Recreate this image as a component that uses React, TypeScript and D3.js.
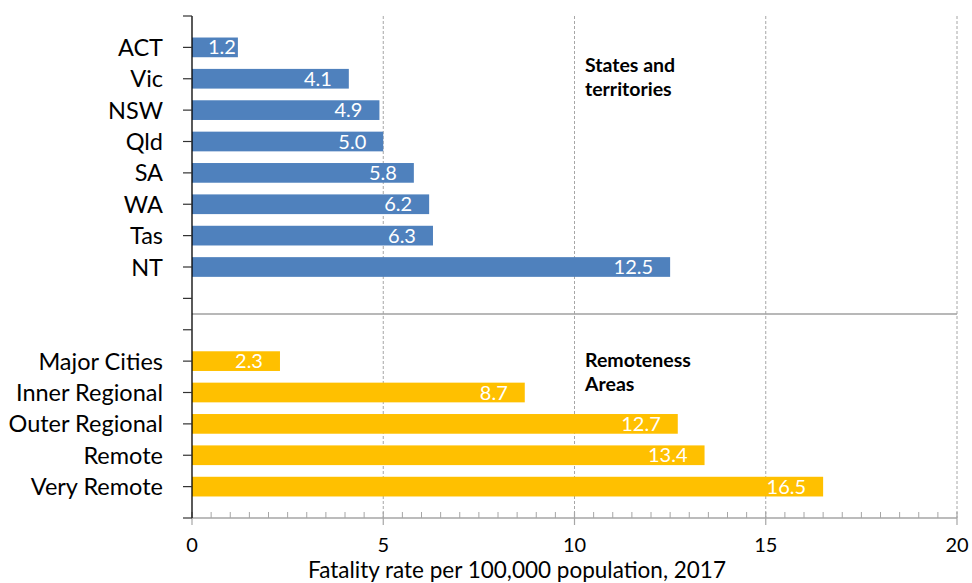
import React from "react";
import * as d3 from "d3";

// Road fatality rates per 100,000 population, 2017
const stateNames = ["ACT", "Vic", "NSW", "Qld", "SA", "WA", "Tas", "NT"];
const stateRates = [1.2, 4.1, 4.9, 5.0, 5.8, 6.2, 6.3, 12.5];
const areaNames = ["Major Cities", "Inner Regional", "Outer Regional", "Remote", "Very Remote"];
const areaRates = [2.3, 8.7, 12.7, 13.4, 16.5];
const xTickValues = [0, 5, 10, 15, 20];
const stateGroupTitle = ["States and", "territories"];
const areaGroupTitle = ["Remoteness", "Areas"];
const axisTitle = "Fatality rate per 100,000 population, 2017";

const W = 972;
const H = 583;
const FONT = "Lato, 'Noto Sans', 'DejaVu Sans', sans-serif";
const BLUE = "#4f81bd";
const GOLD = "#ffc000";

const x = d3.scaleLinear().domain([0, 20]).range([192, 957]);
// row slots: 0 = top edge, 1-8 states, 9-10 gap around the divider, 11-15 remoteness, 16 = bottom edge
const y = d3.scaleLinear().domain([0, 16]).range([16, 518]);
const BAR_H = 19.7;

const rows = [
  ...stateNames.map((name, i) => ({ name, value: stateRates[i], slot: i + 1, color: BLUE })),
  ...areaNames.map((name, i) => ({ name, value: areaRates[i], slot: i + 11, color: GOLD })),
];

let measureCtx: CanvasRenderingContext2D | null = null;
function textWidth(s: string, font: string): number {
  if (!measureCtx) measureCtx = document.createElement("canvas").getContext("2d");
  if (!measureCtx) return s.length * 10;
  measureCtx.font = font;
  return measureCtx.measureText(s).width;
}

export default function App() {
  const valueFontSize = 20;
  const minorTicks = d3.range(0, 20.001, 0.5).filter((v) => v % 5 !== 0);
  const slots = d3.range(0, 17);
  const [x0, x1] = x.range();
  const [yTop, yBottom] = y.range();

  return (
    <svg
      width={W}
      height={H}
      style={{ position: "absolute", left: 0, top: 0, background: "#fff" }}
      fontFamily={FONT}
    >
      {/* vertical gridlines */}
      {xTickValues.filter((v) => v > 0).map((v) => (
        <line
          key={`g${v}`}
          x1={x(v)}
          x2={x(v)}
          y1={yTop}
          y2={yBottom}
          stroke="#a6a6a6"
          strokeWidth={1}
          strokeDasharray="3,2"
        />
      ))}

      {/* divider between the two groups */}
      <line x1={x0} x2={x1} y1={y(9.5)} y2={y(9.5)} stroke="#a0a0a0" strokeWidth={1.5} />

      {/* bars */}
      {rows.map((r) => (
        <rect
          key={r.name}
          x={x(0)}
          y={y(r.slot) - BAR_H / 2}
          width={x(r.value) - x(0)}
          height={BAR_H}
          fill={r.color}
        />
      ))}

      {/* value labels inside bar ends */}
      {rows.map((r) => {
        const label = r.value.toFixed(1);
        const w = textWidth(label, `${valueFontSize}px ${FONT}`);
        const end = Math.max(x(r.value) - 17, x(0) + 16 + w);
        return (
          <text
            key={`v${r.name}`}
            x={end}
            y={y(r.slot) + 7}
            textAnchor="end"
            fontSize={valueFontSize}
            fill="#fff"
          >
            {label}
          </text>
        );
      })}

      {/* x axis */}
      <line x1={x0} x2={x1} y1={yBottom} y2={yBottom} stroke="#a6a6a6" strokeWidth={1.5} />
      {minorTicks.map((v) => (
        <line key={`m${v}`} x1={x(v)} x2={x(v)} y1={yBottom - 6} y2={yBottom} stroke="#a6a6a6" strokeWidth={1} />
      ))}
      {xTickValues.map((v) => (
        <g key={`t${v}`}>
          <line x1={x(v)} x2={x(v)} y1={yBottom - 6} y2={yBottom + 7} stroke="#a6a6a6" strokeWidth={1.2} />
          <text x={x(v)} y={552} textAnchor="middle" fontSize={20} fill="#000">
            {v}
          </text>
        </g>
      ))}
      <text x={517} y={578} textAnchor="middle" fontSize={22.5} fill="#000">
        {axisTitle}
      </text>

      {/* y axis */}
      <line x1={x0} x2={x0} y1={yTop} y2={yBottom} stroke="#000" strokeWidth={1.3} />
      {slots.map((s) => (
        <line key={`yt${s}`} x1={x0 - 9} x2={x0} y1={y(s)} y2={y(s)} stroke="#333" strokeWidth={1.2} />
      ))}
      {rows.map((r) => (
        <text
          key={`c${r.name}`}
          x={163}
          y={y(r.slot) + 8.5}
          textAnchor="end"
          fontSize={23.5}
          fill="#000"
        >
          {r.name}
        </text>
      ))}

      {/* group titles */}
      {[
        { lines: stateGroupTitle, top: 72 },
        { lines: areaGroupTitle, top: 367 },
      ].map((g) => (
        <text key={g.lines[0]} x={585} y={g.top} fontSize={19.5} fontWeight="bold" fill="#000">
          {g.lines.map((l, i) => (
            <tspan key={l} x={585} dy={i === 0 ? 0 : 24}>
              {l}
            </tspan>
          ))}
        </text>
      ))}
    </svg>
  );
}
